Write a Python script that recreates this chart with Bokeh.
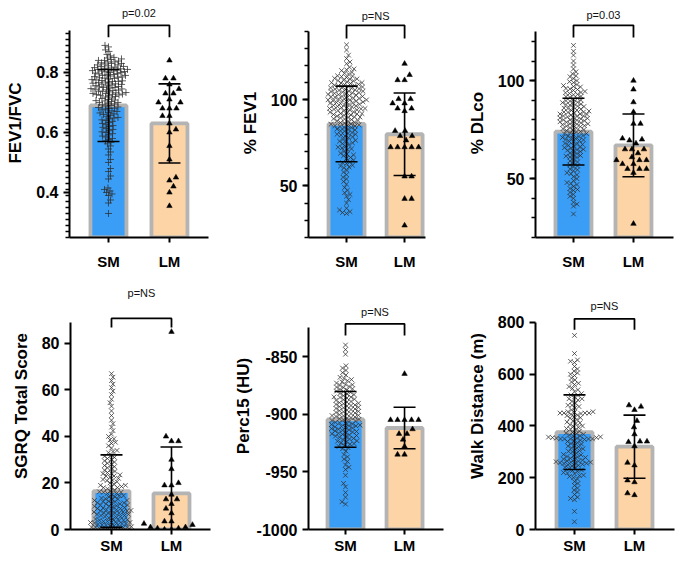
import numpy as np
from bokeh.plotting import figure
from bokeh.models import FixedTicker
from bokeh.layouts import column, row
from bokeh.embed import file_html
from bokeh.resources import INLINE
from bokeh.core.properties import value

groups = ["SM", "LM"]

# ---------------- data ----------------
fev1fvc_sm = [0.89, 0.885, 0.875, 0.87, 0.86, 0.855,
              0.85, 0.848, 0.845, 0.843, 0.84, 0.84,
              0.838, 0.835, 0.835, 0.832, 0.83, 0.83, 0.828, 0.825, 0.825, 0.822, 0.82, 0.82,
              0.818, 0.816, 0.815, 0.814, 0.812, 0.81, 0.81, 0.81, 0.808, 0.806, 0.805, 0.805, 0.803, 0.802, 0.80, 0.80,
              0.798, 0.796, 0.795, 0.793, 0.792, 0.79, 0.79, 0.788, 0.786, 0.785, 0.784, 0.782, 0.781, 0.78,
              0.778, 0.776, 0.775, 0.773, 0.772, 0.77, 0.77, 0.768, 0.766, 0.765, 0.764, 0.762, 0.761, 0.76,
              0.758, 0.756, 0.755, 0.753, 0.752, 0.75, 0.75, 0.748, 0.746, 0.745, 0.744, 0.742, 0.741, 0.74,
              0.738, 0.736, 0.735, 0.733, 0.732, 0.73, 0.73, 0.728, 0.727, 0.726, 0.725, 0.724, 0.722, 0.72,
              0.718, 0.715, 0.713, 0.71, 0.708, 0.706, 0.705, 0.703, 0.70, 0.70,
              0.698, 0.695, 0.692, 0.69, 0.688, 0.685, 0.683, 0.681, 0.68,
              0.678, 0.675, 0.672, 0.67, 0.667, 0.665, 0.662, 0.66,
              0.657, 0.654, 0.65, 0.648, 0.645, 0.642, 0.64,
              0.637, 0.633, 0.63, 0.626, 0.623, 0.62,
              0.617, 0.613, 0.61, 0.606, 0.602, 0.60,
              0.596, 0.592, 0.588, 0.585, 0.58,
              0.577, 0.572, 0.567, 0.562,
              0.555, 0.545, 0.535, 0.525, 0.51, 0.50,
              0.48, 0.47, 0.455, 0.445,
              0.415, 0.41, 0.405, 0.40, 0.395, 0.39, 0.375, 0.365, 0.33]
fev1fvc_lm = [0.84, 0.78, 0.78, 0.76, 0.745, 0.73, 0.73, 0.71, 0.70, 0.70, 0.68, 0.68, 0.68,
              0.655, 0.655, 0.63, 0.61, 0.60, 0.555, 0.51, 0.45, 0.44, 0.42, 0.40, 0.355]
fev1fvc_mean = [0.69, 0.63]
fev1fvc_sd = [0.12, 0.132]
fev1fvc_ticks = [0.4, 0.6, 0.8]
fev1fvc_p = "p=0.02"

fev1_sm = [132, 129, 126, 124, 122, 121,
           119, 118, 117.5, 117, 116, 115.5, 115,
           114, 113.8, 113.5, 113, 112.5, 112.2, 112, 111.5, 111.2, 111, 110.5, 110, 110,
           109.8, 109.5, 109, 108.8, 108.5, 108.2, 108, 107.8, 107.5, 107, 107, 106.8, 106.5, 106.2, 106,
           105.8, 105.5, 105, 105,
           104.8, 104.5, 104.2, 104, 103.8, 103.5, 103.2, 103, 102.8, 102.5, 102, 102, 101.8, 101.5,
           101.2, 101, 100.8, 100.5, 100, 100, 100,
           99.8, 99.5, 99.2, 99, 98.8, 98.5, 98.2, 98, 97.8, 97.5, 97, 97, 96.8, 96.5, 96.2, 96, 95.5,
           95, 95, 95,
           94.8, 94.5, 94.2, 94, 93.8, 93.5, 93, 92.8, 92.5, 92, 92, 91.8, 91.5, 91.2, 91, 90.5, 90, 90,
           89.8, 89.5, 89, 88.8, 88.5, 88, 87.8, 87.5, 87, 86.8, 86.5, 86, 85.8, 85.5, 85, 85,
           84.8, 84.5, 84, 83.8, 83, 82.8, 82.5, 82, 81.8, 81, 80.5, 80, 80,
           79.5, 79, 78.5, 78, 77, 76.5, 76, 76, 75,
           74.5, 74, 73, 72.5, 72, 71.5, 71, 70,
           69, 68.5, 68, 67.5, 66.5, 66, 65,
           64, 63.5, 63, 62, 61.5, 61, 60.5,
           59, 58, 56.5, 55, 54, 52.5, 51,
           49, 47.5, 46, 45, 44, 42, 40,
           37, 36, 35, 34.5, 34]
fev1_lm = [121, 114.5, 111.5, 111.5, 100.5, 100.5, 98, 98, 95, 95, 93.5, 82, 82, 79, 79, 76.5,
           72.5, 72.5, 72.5, 72.5, 72.5, 55.5, 55.5, 42.5, 42.5, 27]
fev1_mean = [86, 80]
fev1_sd = [22, 24]
fev1_ticks = [50, 100]
fev1_p = "p=NS"

dlco_sm = [118, 115, 113, 110, 108, 106,
           104.5, 103.5, 102.5, 102, 101, 100,
           99.5, 99, 98, 97.5, 97, 96.8, 96, 95.8, 95.5, 95,
           94.5, 94, 93.8, 93.5, 93, 92.8, 92, 91.8, 91.5, 91, 90.5, 90,
           89.8, 89.5, 89, 88.8, 88.5, 88, 87.8, 87.5, 87, 86.8, 86.5, 86, 85.8, 85.5, 85,
           84.8, 84.5, 84, 84, 83.8, 83.5, 83, 83, 82.8, 82.5, 82, 82, 81.8, 81.5, 81, 81, 80.8, 80.5, 80, 80,
           79.8, 79.5, 79, 79, 78.8, 78.5, 78, 78, 77.8, 77.5, 77, 77, 76.8, 76.5, 76, 75.8, 75.5, 75,
           74.8, 74.5, 74, 73.8, 73.5, 73, 72.8, 72.5, 72, 71.8, 71.5, 71, 70.8, 70.5, 70,
           69.8, 69.5, 69, 68.8, 68, 67.8, 67.5, 67, 66.8, 66, 65.8, 65.5, 65,
           64.8, 64.5, 64, 63.8, 63, 62.8, 62, 61.8, 61.5, 61, 60.8, 60,
           59, 58.5, 58, 57, 56.5, 56, 55, 54.5, 54, 53, 52.5, 52, 51, 50,
           49, 48, 47.5, 47, 46, 45, 44.5, 44, 43, 42, 41, 40,
           38, 37, 36, 32]
dlco_lm = [100, 95.5, 89, 84, 78, 78, 70.5, 70, 69.5, 68, 65, 65, 65, 63, 61,
           59.5, 59.5, 59.5, 57.5, 57.5, 55, 55, 55, 53, 27]
dlco_mean = [74, 67]
dlco_sd = [17, 16]
dlco_ticks = [50, 100]
dlco_p = "p=0.03"

sgrq_sm = [0, 0, 0, 0.2, 0.5, 0.5, 0.8, 1, 1, 1, 1.2, 1.5, 1.5, 1.8, 2, 2, 2.2, 2.5, 2.5, 2.8,
           3, 3, 3, 3.2, 3.5, 3.5, 3.8, 4, 4, 4.2, 4.5, 4.5, 5,
           5.2, 5.5, 5.5, 6, 6, 6.2, 6.5, 6.5, 7, 7, 7, 7.2, 7.5, 7.5, 8, 8, 8, 8.2, 8.5, 8.5,
           9, 9, 9.2, 9.5, 9.5, 10, 10,
           10.2, 10.5, 10.5, 11, 11, 11.2, 11.5, 11.5, 12, 12, 12.2, 12.5, 12.5, 13, 13, 13.2, 13.5,
           14, 14, 14.5, 14.5, 15,
           15.5, 15.5, 16, 16, 16.2, 16.5, 17, 17.5, 18, 18, 18.2, 18.5, 19, 19, 19.5, 20,
           20.5, 21, 21.2, 21.5, 22, 22.5, 23, 23, 23.5, 24, 24.2, 24.5, 25,
           25.5, 26, 26.5, 27, 27.5, 28, 28.5, 29, 29.5,
           30, 30.5, 31, 31.5, 32, 33, 33.5, 34,
           35, 36, 37, 37.5, 38.5, 39, 40, 41,
           42.5, 44, 45.5, 47, 49, 51, 53, 54.5, 56, 58, 59.5, 61, 62.5, 64, 65.5, 67]
sgrq_lm = [85, 40, 38, 38, 30, 26, 20, 19, 19, 15, 13, 13, 11, 9, 7, 3.5, 3.5, 2.5, 2, 1, 1, 0.5, 0.5, 0, 0]
sgrq_mean = [16.5, 15.5]
sgrq_sd = [15.6, 20]
sgrq_ticks = [0, 20, 40, 60, 80]
sgrq_p = "p=NS"

perc15_sm = [-840, -844, -848,
             -858, -860, -862, -864, -866, -868, -869, -870,
             -871, -872, -873, -874, -874.5, -875, -876, -876.5, -877, -878, -878.5, -879, -880, -880.5,
             -881, -882, -882.5, -883, -884, -885, -885.2, -885.5, -886, -887, -887.5, -888, -889, -889.5, -890,
             -890.5, -891, -891.5, -892, -892.5, -893, -893.5, -894, -894.5, -895, -895.5, -896, -896.5,
             -897, -897.5, -898, -898.5, -899, -899.5, -900,
             -900.5, -901, -901.2, -901.5, -902, -902.5, -903, -903.5, -904, -904.5, -905, -905.5, -906,
             -906.5, -907, -907.5, -908, -908.5, -909, -909.5, -910,
             -910.2, -910.5, -911, -911.5, -912, -912.5, -913, -913.5, -914, -914.5, -915, -915.5, -916,
             -916.5, -917, -917.5, -918, -918.5, -919, -919.5, -920,
             -921, -921.5, -922, -923, -923.5, -924, -925, -925.5, -926, -927, -928, -929, -930,
             -932, -935, -937, -939, -941, -944, -946, -948,
             -953, -960, -963, -968, -972, -976, -978]
perc15_lm = [-865, -905, -905, -905, -905, -905, -913, -917, -917, -922, -928, -935, -935]
perc15_mean = [-904.5, -912]
perc15_sd = [24.2, 18]
perc15_ticks = [-1000, -950, -900, -850]
perc15_p = "p=NS"

walk_sm = [750, 680, 655, 650, 645, 630,
           620, 612, 605, 600,
           595, 585, 578, 570, 565, 560, 552,
           545, 540, 532, 525, 520, 518, 512, 505, 505, 500,
           495, 488, 480, 480, 475, 470, 462, 455, 455, 452, 450, 450, 450, 450,
           448, 445, 442, 440, 435, 432, 430, 425, 420, 415, 412, 410, 405, 400,
           398, 395, 390, 388, 385, 380, 375, 372, 370, 368, 365, 362, 360, 358, 357, 355, 355, 353, 352,
           350, 350, 350, 350, 350,
           348, 345, 342, 340, 335, 332, 330, 325, 322, 320, 315, 312, 310, 305, 302, 300,
           295, 290, 288, 285, 282, 280, 278, 275, 272, 270, 268, 265, 264, 262, 260, 260, 258, 256,
           255, 255, 252, 250,
           248, 245, 240, 238, 235, 230, 228, 225, 220, 218, 215, 210, 208, 205, 200,
           195, 185, 178, 170, 160, 152,
           145, 135, 125, 120, 115, 70, 30]
walk_lm = [480, 475, 462, 420, 395, 368, 340, 340, 338, 322, 258, 248, 190, 183, 140, 133]
walk_mean = [376, 320]
walk_sd = [144, 122]
walk_ticks = [0, 200, 400, 600, 800]
walk_p = "p=NS"

# ---------------- style ----------------
BLUE = "#3a9ef6"
PEACH = "#fdd4a6"
GREY = "#b4b4b4"
FONT = "Liberation Sans"


def swarm(vals, ppy, dist, step=0.5):
    order = sorted(range(len(vals)), key=lambda i: (vals[i], i))
    pxs, pys = [], []
    offs = [0.0] * len(vals)
    for n, i in enumerate(order):
        y = vals[i] * ppy
        near = [(a, b) for a, b in zip(pxs, pys) if abs(b - y) < dist]
        k = 0
        chosen = None
        while chosen is None:
            if k == 0:
                cands = [0.0]
            elif n % 2 == 0:
                cands = [k * step, -k * step]
            else:
                cands = [-k * step, k * step]
            for x in cands:
                if all((x - a) ** 2 + (y - b) ** 2 >= dist * dist for a, b in near):
                    chosen = x
                    break
            k += 1
        offs[i] = chosen
        pxs.append(chosen)
        pys.append(y)
    return offs


def make_panel(c):
    fw, fh = c["frame"]
    x0, x1 = c["xr"]
    y0, y1 = c["yr"]
    ppx = fw / (x1 - x0)
    ppy = fh / (y1 - y0)
    ml, mr, mt, mb = c["mb"]
    p = figure(frame_width=fw, frame_height=fh, x_range=(x0, x1), y_range=(y0, y1),
               output_backend="svg", toolbar_location=None,
               min_border_left=ml, min_border_right=mr, min_border_top=mt, min_border_bottom=mb)
    p.grid.visible = False
    p.outline_line_color = None
    p.background_fill_color = "white"
    p.border_fill_color = "white"

    bw = 36.0 / ppx
    p.vbar(x=[1, 2], top=c["mean"], bottom=y0 - (y1 - y0) * 0.05, width=bw,
           fill_color=[BLUE, PEACH], line_color=GREY, line_width=3.8)

    sm = c["sm"]
    o = swarm(sm, ppy, c["D"])
    p.scatter(x=[1 + v / ppx for v in o], y=sm, marker=c["marker"], size=c["msize"],
              line_color="#2e2e2e", line_width=0.9, line_alpha=0.85, fill_color=None)

    lm = c["lm"]
    o = swarm(lm, ppy, 7.0)
    p.scatter(x=[2 + v / ppx for v in o], y=lm, marker="triangle", size=5.5,
              fill_color="black", line_color="black", line_width=0.5)

    m = c["mean"]
    s = c["sd"]
    cap = 11.0 / ppx
    lo = [m[i] - s[i] for i in range(2)]
    hi = [m[i] + s[i] for i in range(2)]
    p.segment(x0=[1, 2], y0=lo, x1=[1, 2], y1=hi, line_color="black", line_width=1.6)
    p.segment(x0=[1 - cap, 2 - cap, 1 - cap, 2 - cap], y0=lo + hi,
              x1=[1 + cap, 2 + cap, 1 + cap, 2 + cap], y1=lo + hi,
              line_color="black", line_width=1.6)

    b, v, t = c["bracket"]
    p.line(x=[1, 1, 2, 2], y=[v, b, b, v], line_color="black", line_width=1.8)
    p.text(x=[1.5], y=[t], text=[c["ptxt"]], text_align="center", text_baseline="middle",
           text_font=value(FONT), text_font_size="11px", text_color="#111111")

    ya = p.yaxis[0]
    ticks = c["ticks"]
    lo_b, hi_b = c["bounds"]
    minors = []
    if c["minor"]:
        minors = [float(x) for x in np.arange(lo_b, hi_b + 1e-9, c["minor"])]
    ya.ticker = FixedTicker(ticks=ticks, minor_ticks=minors)
    ya.major_label_overrides = {tk: c["fmt"](tk) for tk in ticks}
    ya.bounds = (lo_b, hi_b)
    ya.axis_label = c["label"]
    ya.axis_label_text_font = FONT
    ya.axis_label_text_font_style = "bold"
    ya.axis_label_text_font_size = "17px"
    ya.axis_label_text_color = "black"
    ya.axis_label_standoff = c["lstand"]
    ya.major_label_text_font = FONT
    ya.major_label_text_font_style = "bold"
    ya.major_label_text_font_size = "16px"
    ya.major_label_text_color = "black"
    ya.major_label_standoff = 5
    ya.axis_line_width = 2
    ya.major_tick_line_width = 2
    ya.minor_tick_line_width = 1.5
    ya.minor_tick_line_color = "black"
    ya.major_tick_out = 6
    ya.major_tick_in = 0
    ya.minor_tick_out = 4
    ya.minor_tick_in = 0

    xa = p.xaxis[0]
    xa.ticker = FixedTicker(ticks=[1, 2], minor_ticks=[])
    xa.major_label_overrides = {1: groups[0], 2: groups[1]}
    xa.major_label_text_font = FONT
    xa.major_label_text_font_style = "bold"
    xa.major_label_text_font_size = "15px"
    xa.major_label_text_color = "black"
    xa.major_label_standoff = c["xstand"]
    xa.axis_line_width = 2
    xa.major_tick_line_width = 2
    xa.major_tick_out = 5
    xa.major_tick_in = 0
    xa.minor_tick_out = 0
    return p


fmt_dec = lambda v: "%.1f" % v
fmt_int = lambda v: "%d" % v

cfgs = [
    dict(label="FEV1/FVC", sm=fev1fvc_sm, lm=fev1fvc_lm, mean=fev1fvc_mean, sd=fev1fvc_sd,
         ticks=fev1fvc_ticks, ptxt=fev1fvc_p, fmt=fmt_dec,
         frame=(139, 229), xr=(0.361, 2.64), yr=(0.25, 1.013), bounds=(0.25, 0.94), minor=0.02,
         mb=(69, 22, 8, 43), marker="cross", msize=7, D=3.6,
         bracket=(0.957, 0.917, 0.997), xstand=10, lstand=8),
    dict(label="% FEV1", sm=fev1_sm, lm=fev1_lm, mean=fev1_mean, sd=fev1_sd,
         ticks=fev1_ticks, ptxt=fev1_p, fmt=fmt_int,
         frame=(117, 229), xr=(0.345, 2.36), yr=(20, 153.1), bounds=(20, 140), minor=10,
         mb=(78, 30, 8, 43), marker="x", msize=6.5, D=3.8,
         bracket=(143.3, 135.7, 149.0), xstand=10, lstand=8),
    dict(label="% DLco", sm=dlco_sm, lm=dlco_lm, mean=dlco_mean, sd=dlco_sd,
         ticks=dlco_ticks, ptxt=dlco_p, fmt=fmt_int,
         frame=(138, 229), xr=(0.367, 2.667), yr=(20, 136.8), bounds=(20, 125), minor=10,
         mb=(80, 10, 8, 43), marker="x", msize=6.5, D=3.8,
         bracket=(128.2, 122.0, 133.3), xstand=10, lstand=8),
    dict(label="SGRQ Total Score", sm=sgrq_sm, lm=sgrq_lm, mean=sgrq_mean, sd=sgrq_sd,
         ticks=sgrq_ticks, ptxt=sgrq_p, fmt=fmt_int,
         frame=(140, 247), xr=(0.317, 2.65), yr=(0, 106.2), bounds=(0, 89), minor=None,
         mb=(70, 20, 2, 34), marker="x", msize=6.5, D=3.7,
         bracket=(90.75, 86.9, 101.5), xstand=2, lstand=8),
    dict(label="Perc15 (HU)", sm=perc15_sm, lm=perc15_lm, mean=perc15_mean, sd=perc15_sd,
         ticks=perc15_ticks, ptxt=perc15_p, fmt=fmt_int,
         frame=(135, 247), xr=(0.373, 2.66), yr=(-1000, -785.8), bounds=(-1000, -825), minor=None,
         mb=(77, 13, 2, 34), marker="x", msize=6.5, D=3.9,
         bracket=(-821.6, -831.7, -811.5), xstand=2, lstand=1),
    dict(label="Walk Distance (m)", sm=walk_sm, lm=walk_lm, mean=walk_mean, sd=walk_sd,
         ticks=walk_ticks, ptxt=walk_p, fmt=fmt_int,
         frame=(139, 247), xr=(0.35, 2.667), yr=(0, 954.4), bounds=(0, 800), minor=None,
         mb=(79, 10, 2, 34), marker="x", msize=6.5, D=3.8,
         bracket=(814, 772, 865), xstand=2, lstand=8),
]

plots = [make_panel(c) for c in cfgs]
layout = column(row(plots[0], plots[1], plots[2]), row(plots[3], plots[4], plots[5]))

open("out.html", "w").write(file_html(layout, INLINE))
